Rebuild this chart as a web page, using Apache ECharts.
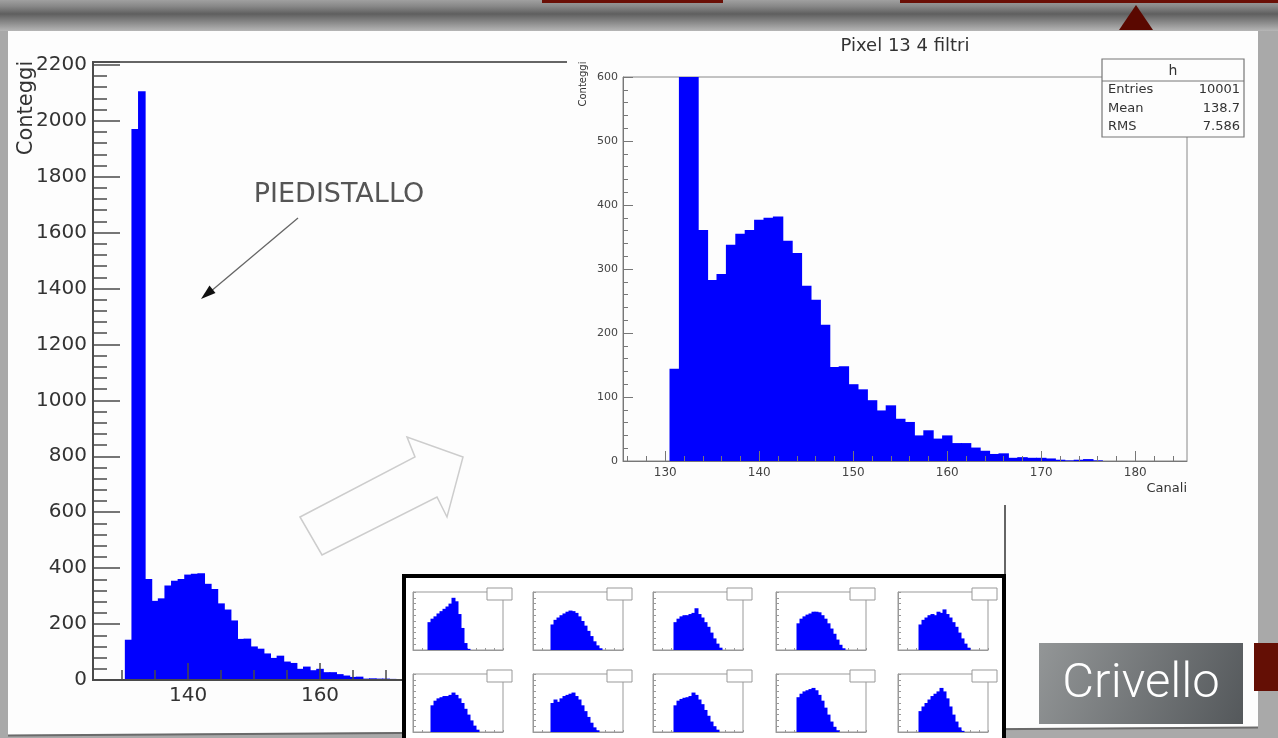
<!DOCTYPE html>
<html>
<head>
<meta charset="utf-8">
<script src="https://cdn.jsdelivr.net/npm/echarts@6/dist/echarts.min.js"></script>
<style>
  html, body { margin: 0; padding: 0; background: #a9a9a9; }
  #main { width: 1278px; height: 738px; }
</style>
</head>
<body>
<div id="main"></div>
<script>
// ADC channel of each bin (bin width 1, edges at half-integers)
const channels = [131,132,133,134,135,136,137,138,139,140,141,142,143,144,145,146,147,148,149,150,
                  151,152,153,154,155,156,157,158,159,160,161,162,163,164,165,166,167,168,169,170,
                  171,172,173,174,175,176];
// Counts per channel, pixel 13, 4 filters
const counts = [144,1970,2105,361,283,292,338,355,361,377,380,382,344,325,274,252,213,147,148,120,
                112,95,79,87,66,61,40,48,35,40,28,28,21,16,11,12,5,6,5,5,
                4,2,1,2,3,1];

// Tick labels
const leftXLabels = [140, 160, 180, 200, 220, 240, 260];
const rightXLabels = [130, 140, 150, 160, 170, 180];

// Statistics box
const statsNames = ['Entries', 'Mean', 'RMS'];
const statsValues = ['10001', '138.7', '7.586'];

// Small per-pixel spectra (relative counts per bin)
const thumbR1C1 = [0,0,0,0,0,48,54,58,63,67,71,75,80,90,84,62,38,12,2,0,0,0,0,0];
const thumbR1C2 = [0,0,0,0,0,0,44,52,56,60,63,66,68,67,64,58,50,42,33,24,15,8,3,0];
const thumbR1C3 = [0,0,0,0,0,0,0,48,54,58,60,60,62,64,72,62,56,48,40,30,20,11,4,0];
const thumbR1C4 = [0,0,0,0,0,0,0,46,54,58,61,63,66,66,65,60,54,46,37,28,18,9,3,0];
const thumbR1C5 = [0,0,0,0,0,0,0,44,52,56,60,62,60,66,64,70,62,56,48,40,30,20,11,4];
const thumbR2C1 = [0,0,0,0,0,0,46,54,58,60,62,62,64,68,64,58,50,40,30,20,11,4,0,0];
const thumbR2C2 = [0,0,0,0,0,0,50,56,52,58,62,64,66,68,62,56,46,36,26,16,8,3,0,0];
const thumbR2C3 = [0,0,0,0,0,0,0,46,54,57,59,60,62,68,64,56,48,38,28,18,10,4,0,0];
const thumbR2C4 = [0,0,0,0,0,0,0,60,66,70,72,74,76,72,64,54,42,30,18,9,3,0,0,0];
const thumbR2C5 = [0,0,0,0,0,0,0,36,44,50,56,62,66,70,76,70,58,44,30,18,8,2,0,0];
const thumbs = [thumbR1C1, thumbR1C2, thumbR1C3, thumbR1C4, thumbR1C5,
                thumbR2C1, thumbR2C2, thumbR2C3, thumbR2C4, thumbR2C5];

const FONT = '"DejaVu Sans", Verdana, sans-serif';
const BLUE = '#0000ff';

// Histogram bin: [lowEdge, highEdge, count]; drawn slightly overlapping so the fill is seamless
function binRect(params, api) {
  const c = api.value(2);
  if (!c) return null;
  const a = api.coord([api.value(0), c]);
  const b = api.coord([api.value(1), 0]);
  return {
    type: 'rect',
    shape: { x: a[0] - 0.5, y: a[1], width: b[0] - a[0] + 1, height: b[1] - a[1] },
    style: { fill: BLUE }
  };
}

const mainBins = channels.map((ch, i) => [ch - 0.5, ch + 0.5, counts[i]]);

function range(a, b, step) { const r = []; for (let v = a; v <= b; v += step) r.push(v); return r; }
const plain = v => String(v);

// ---- layout ----
const L = { left: 93, top: 62, width: 912, height: 618, xMin: 125.6, xMax: 263.8, yMax: 2210 };
const R = { left: 623, top: 77, width: 564, height: 384, xMin: 125.5, xMax: 185.5, yMax: 600 };
const thumbCols = [413, 533, 653, 776, 898];
const thumbRows = [592, 674];
const TW = 90, TH = 58;

const grids = [], xAxes = [], yAxes = [], series = [];

// Left, full-scale spectrum
grids.push({ left: L.left, top: L.top, width: L.width, height: L.height, show: true,
  borderColor: '#666', borderWidth: 2, backgroundColor: 'transparent', z: 0 });
xAxes.push({ gridIndex: 0, type: 'value', position: 'bottom', min: L.xMin, max: L.xMax, z: 2,
  axisLine: { onZero: false, lineStyle: { color: '#4a4a4a', width: 2 } },
  axisTick: { inside: true, length: 10, customValues: range(130, 260, 5), lineStyle: { color: '#4a4a4a', width: 1.5 } },
  axisLabel: { customValues: leftXLabels, formatter: plain, fontFamily: FONT, fontSize: 20, color: '#333', margin: 6 },
  splitLine: { show: false } });
xAxes.push({ gridIndex: 0, type: 'value', position: 'bottom', min: L.xMin, max: L.xMax, z: 2,
  axisLine: { show: false, onZero: false },
  axisTick: { inside: true, length: 17, customValues: leftXLabels, lineStyle: { color: '#4a4a4a', width: 1.5 } },
  axisLabel: { show: false }, splitLine: { show: false } });
yAxes.push({ gridIndex: 0, type: 'value', min: 0, max: L.yMax, interval: 200, z: 2,
  axisLine: { show: true, lineStyle: { color: '#4a4a4a', width: 2 } },
  axisTick: { show: true, inside: true, length: 27, lineStyle: { color: '#4a4a4a', width: 1.5 } },
  minorTick: { show: true, splitNumber: 5, length: 14, lineStyle: { color: '#4a4a4a', width: 1.5 } },
  axisLabel: { formatter: plain, fontFamily: FONT, fontSize: 20, color: '#333', margin: 6, showMaxLabel: false },
  splitLine: { show: false }, minorSplitLine: { show: false } });
series.push({ type: 'custom', xAxisIndex: 0, yAxisIndex: 0, data: mainBins, renderItem: binRect, z: 1, clip: true, silent: true });

// Right, zoomed spectrum
grids.push({ left: R.left, top: R.top, width: R.width, height: R.height, show: true,
  borderColor: '#888', borderWidth: 1, z: 4 });
xAxes.push({ gridIndex: 1, type: 'value', position: 'bottom', min: R.xMin, max: R.xMax, z: 5,
  axisLine: { onZero: false, lineStyle: { color: '#777', width: 1 } },
  axisTick: { inside: true, length: 5, customValues: range(126, 184, 2), lineStyle: { color: '#777' } },
  axisLabel: { customValues: rightXLabels, formatter: plain, fontFamily: FONT, fontSize: 12, color: '#444', margin: 6 },
  splitLine: { show: false } });
xAxes.push({ gridIndex: 1, type: 'value', position: 'bottom', min: R.xMin, max: R.xMax, z: 5,
  axisLine: { show: false, onZero: false },
  axisTick: { inside: true, length: 10, customValues: rightXLabels, lineStyle: { color: '#777' } },
  axisLabel: { show: false }, splitLine: { show: false } });
yAxes.push({ gridIndex: 1, type: 'value', min: 0, max: R.yMax, interval: 100, z: 5,
  axisLine: { show: true, lineStyle: { color: '#777', width: 1 } },
  axisTick: { show: true, inside: true, length: 10, lineStyle: { color: '#777' } },
  minorTick: { show: true, splitNumber: 5, length: 5, lineStyle: { color: '#777' } },
  axisLabel: { formatter: plain, fontFamily: FONT, fontSize: 11, color: '#444', margin: 5 },
  splitLine: { show: false }, minorSplitLine: { show: false } });
series.push({ type: 'custom', xAxisIndex: 2, yAxisIndex: 1, data: mainBins, renderItem: binRect, z: 4, clip: true, silent: true });

// Grid of per-pixel spectra
const thumbGraphics = [];
thumbs.forEach((vals, k) => {
  const row = Math.floor(k / 5), col = k % 5;
  const gi = grids.length;
  const left = thumbCols[col], top = thumbRows[row];
  grids.push({ left: left, top: top, width: TW, height: TH, show: true, borderColor: '#999', borderWidth: 1, z: 8 });
  xAxes.push({ gridIndex: gi, type: 'value', position: 'bottom', min: 0, max: 30, interval: 3, z: 8,
    axisLine: { onZero: false, lineStyle: { color: '#999' } },
    axisTick: { inside: true, length: 2, lineStyle: { color: '#999' } },
    axisLabel: { show: false }, splitLine: { show: false } });
  yAxes.push({ gridIndex: gi, type: 'value', min: 0, max: 100, interval: 10, z: 8,
    axisLine: { show: true, lineStyle: { color: '#999' } },
    axisTick: { show: true, inside: true, length: 3, lineStyle: { color: '#999' } },
    axisLabel: { show: false }, splitLine: { show: false } });
  series.push({ type: 'custom', xAxisIndex: xAxes.length - 1, yAxisIndex: yAxes.length - 1,
    data: vals.map((v, i) => [i, i + 1, v]), renderItem: binRect, z: 9, clip: true, silent: true });
  thumbGraphics.push({ type: 'rect', z: 9,
    shape: { x: left + 74, y: top - 4, width: 25, height: 12 },
    style: { fill: '#fff', stroke: '#999', lineWidth: 1 } });
});

const graphic = [
  // slide background panel and header band
  { type: 'polygon', z: -10, shape: { points: [[8, 31], [1258, 31], [1258, 727], [8, 735]] },
    style: { fill: '#fdfdfd' } },
  { type: 'line', z: -9, shape: { x1: 8, y1: 735.5, x2: 1258, y2: 727.5 }, style: { stroke: '#6a6a6a', lineWidth: 2 } },
  { type: 'rect', z: -9, shape: { x: 0, y: 0, width: 1278, height: 31 },
    style: { fill: new echarts.graphic.LinearGradient(0, 0, 0, 1, [
      { offset: 0, color: '#a0a0a0' }, { offset: 0.2, color: '#888' },
      { offset: 0.45, color: '#5f5f5f' }, { offset: 0.75, color: '#8e8e8e' },
      { offset: 1, color: '#b6b6b6' }]) } },
  { type: 'rect', z: -8, shape: { x: 542, y: 0, width: 181, height: 3 }, style: { fill: '#6a0f06' } },
  { type: 'rect', z: -8, shape: { x: 900, y: 0, width: 378, height: 3 }, style: { fill: '#6a0f06' } },
  { type: 'polygon', z: -8, shape: { points: [[1136, 5], [1119, 30], [1153, 30]] }, style: { fill: '#5a0800' } },

  // left chart annotations
  { type: 'text', z: 2, x: 27, y: 108, rotation: Math.PI / 2,
    style: { text: 'Conteggi', fontFamily: FONT, fontSize: 21, fill: '#333', align: 'center', verticalAlign: 'middle' } },
  { type: 'text', z: 2, x: 339, y: 195,
    style: { text: 'PIEDISTALLO', fontFamily: FONT, fontSize: 27, fill: '#555', align: 'center', verticalAlign: 'middle' } },
  { type: 'line', z: 2, shape: { x1: 298, y1: 218, x2: 210, y2: 292 }, style: { stroke: '#666', lineWidth: 1.3 } },
  { type: 'polygon', z: 2, shape: { points: [[201, 299], [215.5, 293], [209.5, 285.5]] }, style: { fill: '#111' } },
  { type: 'polygon', z: 2,
    shape: { points: [[300, 517], [415, 457], [407, 437], [463, 457], [447, 517], [437, 497], [322, 555]] },
    style: { fill: 'none', stroke: '#cdcdcd', lineWidth: 1.5 } },

  // panel holding the zoomed spectrum
  { type: 'rect', z: 3, shape: { x: 567, y: 31, width: 691, height: 474 }, style: { fill: '#fdfdfd' } },
  { type: 'text', z: 6, x: 905, y: 46,
    style: { text: 'Pixel 13 4 filtri', fontFamily: FONT, fontSize: 18, fill: '#333', align: 'center', verticalAlign: 'middle' } },
  { type: 'text', z: 6, x: 583, y: 84, rotation: Math.PI / 2,
    style: { text: 'Conteggi', fontFamily: FONT, fontSize: 10, fill: '#333', align: 'center', verticalAlign: 'middle' } },
  { type: 'text', z: 6, x: 1187, y: 489,
    style: { text: 'Canali', fontFamily: FONT, fontSize: 13, fill: '#333', align: 'right', verticalAlign: 'middle' } },
  { type: 'rect', z: 6, shape: { x: 1102, y: 59, width: 142, height: 78 },
    style: { fill: '#fdfdfd', stroke: '#777', lineWidth: 1.2 } },
  { type: 'line', z: 6, shape: { x1: 1102, y1: 81, x2: 1244, y2: 81 }, style: { stroke: '#777', lineWidth: 1 } },
  { type: 'text', z: 6, x: 1173, y: 71,
    style: { text: 'h', fontFamily: FONT, fontSize: 14, fill: '#333', align: 'center', verticalAlign: 'middle' } }
];
statsNames.forEach((name, i) => {
  const y = 90 + i * 18.5;
  graphic.push({ type: 'text', z: 6, x: 1108, y: y,
    style: { text: name, fontFamily: FONT, fontSize: 13, fill: '#333', align: 'left', verticalAlign: 'middle' } });
  graphic.push({ type: 'text', z: 6, x: 1240, y: y,
    style: { text: statsValues[i], fontFamily: FONT, fontSize: 13, fill: '#333', align: 'right', verticalAlign: 'middle' } });
});
graphic.push(
  // framed set of per-pixel spectra
  { type: 'rect', z: 7, shape: { x: 404, y: 576, width: 600, height: 170 }, style: { fill: '#fff' } },
  ...thumbGraphics,
  { type: 'rect', z: 10, shape: { x: 404, y: 576, width: 600, height: 170 },
    style: { fill: 'none', stroke: '#000', lineWidth: 4 } },

  // caption box
  { type: 'rect', z: 11, shape: { x: 1039, y: 643, width: 204, height: 81 },
    style: { fill: new echarts.graphic.LinearGradient(0, 0, 1, 1, [
      { offset: 0, color: '#939697' }, { offset: 1, color: '#54585b' }]) } },
  { type: 'text', z: 12, x: 1141, y: 685,
    style: { text: 'Crivello', fontFamily: 'Roboto, "Liberation Sans", sans-serif', fontWeight: 300, fontSize: 49,
      fill: '#ffffff', align: 'center', verticalAlign: 'middle',
      shadowColor: 'rgba(0,0,0,0.45)', shadowBlur: 6, shadowOffsetY: 3 } },
  { type: 'rect', z: 11, shape: { x: 1254, y: 643, width: 24, height: 48 }, style: { fill: '#640f05' } }
);

const chart = echarts.init(document.getElementById('main'), null, { renderer: 'canvas' });
chart.setOption({
  backgroundColor: '#a9a9a9',
  animation: false,
  grid: grids,
  xAxis: xAxes,
  yAxis: yAxes,
  series: series,
  graphic: graphic
});
</script>
</body>
</html>
